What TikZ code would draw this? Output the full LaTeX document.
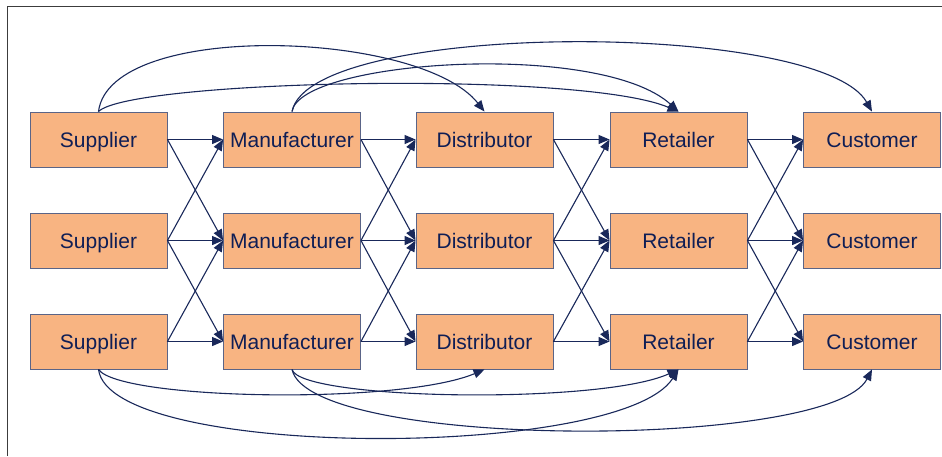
\documentclass[tikz,border=0pt]{standalone}
\usepackage{fontspec}
\setmainfont{Liberation Sans}
\usetikzlibrary{arrows.meta}
\definecolor{boxfill}{RGB}{248,180,130}
\definecolor{boxline}{RGB}{90,100,135}
\definecolor{txtcol}{RGB}{15,30,85}
\definecolor{linkcol}{RGB}{25,40,90}
\definecolor{framecol}{RGB}{60,60,60}
\tikzset{
  stagebox/.style={draw=boxline, line width=0.9pt, fill=boxfill, rectangle,
    minimum width=137pt, minimum height=55pt, inner sep=0pt,
    text height=15pt, text depth=0pt,
    text=txtcol, font=\fontsize{21pt}{25pt}\selectfont},
  link/.style={draw=linkcol, line width=1.1pt,
    -{Triangle[length=11pt,width=9pt]}},
}
\begin{document}
\begin{tikzpicture}[x=1pt,y=-1pt]
\useasboundingbox (0,0) rectangle (942,456);
\draw[framecol, line width=1pt] (7,456) -- (7,6) -- (942,6);
% nodes
\foreach \r/\y in {1/139.5,2/240.5,3/341.5}{
  \node[stagebox] (s\r) at (98.5,\y) {Supplier};
  \node[stagebox] (m\r) at (292,\y) {Manufacturer};
  \node[stagebox] (d\r) at (484.5,\y) {Distributor};
  \node[stagebox] (r\r) at (678.5,\y) {Retailer};
  \node[stagebox] (c\r) at (872,\y) {Customer};
}
% straight links
\foreach \a/\b in {s/m,m/d,d/r,r/c}{
  \draw[link] (\a1.east) -- (\b1.west);
  \draw[link] (\a1.east) -- (\b2.west);
  \draw[link] (\a2.east) -- (\b1.west);
  \draw[link] (\a2.east) -- (\b2.west);
  \draw[link] (\a2.east) -- (\b3.west);
  \draw[link] (\a3.east) -- (\b2.west);
  \draw[link] (\a3.east) -- (\b3.west);
}
% top curves
\draw[link] (s1.north) .. controls (110,20) and (420,30) .. (d1.north);
\draw[link] (s1.north) .. controls (130,80) and (580,70) .. (r1.north);
\draw[link] (m1.north) .. controls (300,60) and (600,40) .. (r1.north);
\draw[link] (m1.north) .. controls (310,20) and (820,20) .. (c1.north);
% bottom curves
\draw[link] (s3.south) .. controls (120,400) and (400,405) .. (d3.south);
\draw[link] (s3.south) .. controls (110,460) and (620,460) .. (r3.south);
\draw[link] (m3.south) .. controls (300,400) and (600,405) .. (r3.south);
\draw[link] (m3.south) .. controls (310,450) and (830,450) .. (c3.south);
\end{tikzpicture}
\end{document}
